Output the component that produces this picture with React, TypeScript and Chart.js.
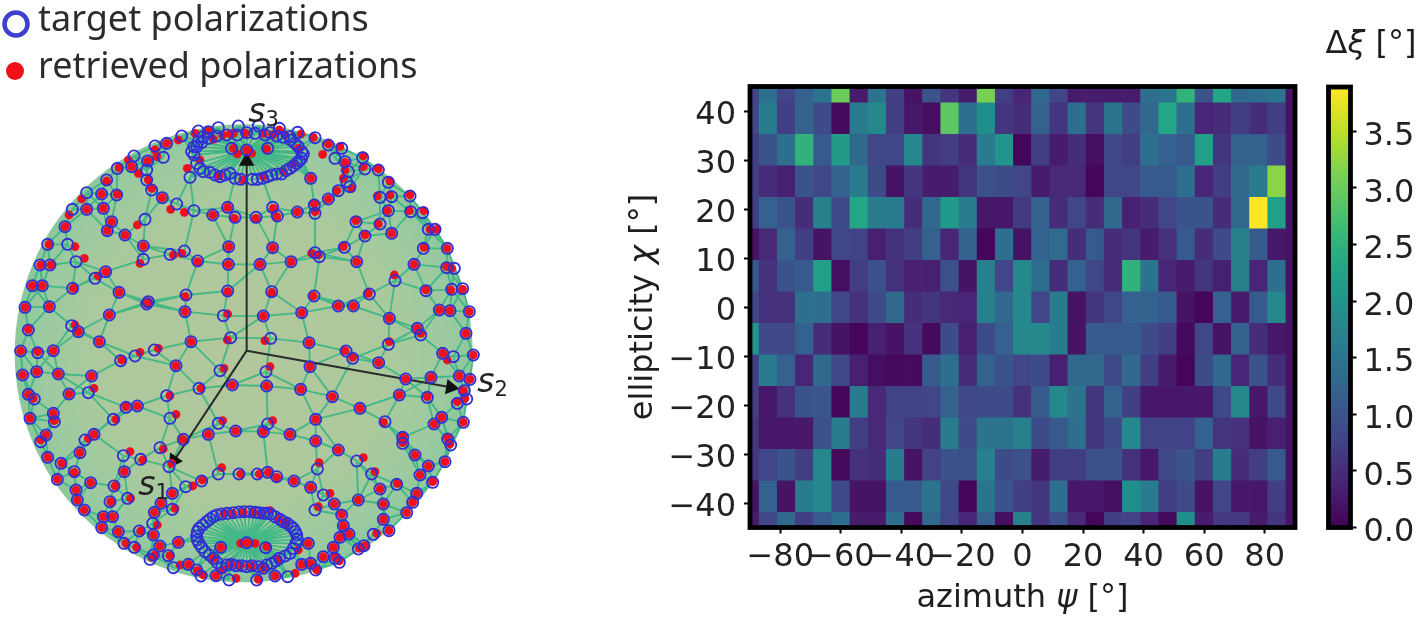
import React, { useEffect, useRef } from "react";
import { Chart, registerables } from "chart.js";

Chart.register(...registerables);

// ---------- heat map ----------
const psiCenters = [-90,-84,-78,-72,-66,-60,-54,-48,-42,-36,-30,-24,-18,-12,-6,0,6,12,18,24,30,36,42,48,54,60,66,72,78,84,90];
const chiCenters = [45,38.57,32.14,25.71,19.29,12.86,6.43,0,-6.43,-12.86,-19.29,-25.71,-32.14,-38.57,-45];
const chiHalfStep = 3.214;
const xTicks = [-80,-60,-40,-20,0,20,40,60,80];
const yTicks = [-40,-30,-20,-10,0,10,20,30,40];
const barTicks = [0,0.5,1,1.5,2,2.5,3,3.5];
const deltaMax = 3.89;

const row45 = [0.8,1.4,0.8,1.2,1.5,3.0,0.3,1.5,0.7,0.2,1.0,0.6,0.3,3.1,0.7,0.4,1.3,0.8,0.3,0.3,0.3,0.3,1.4,1.5,2.5,1.0,2.3,1.3,1.4,1.5,0.2];
const row39 = [0.8,1.6,0.7,1.2,0.9,0.1,1.6,1.8,0.7,0.25,0.15,2.9,1.4,1.9,0.6,0.5,1.2,0.6,1.4,0.6,1.5,0.9,1.3,2.3,1.4,0.4,0.5,0.7,0.5,0.7,0.2];
const row32 = [0.7,1.0,1.4,2.5,1.1,2.1,1.3,0.8,0.8,1.8,0.6,0.7,0.5,1.6,2.0,0.05,0.7,0.3,0.5,0.15,0.8,0.7,1.4,1.2,1.1,2.2,0.6,1.2,1.2,0.9,0.2];
const row26 = [0.7,0.5,0.35,1.0,0.8,1.2,1.6,0.9,0.2,0.6,0.3,0.3,0.6,0.95,0.9,0.8,0.3,0.45,0.45,0.05,0.8,0.8,1.1,1.1,1.4,0.4,0.7,1.3,1.6,3.2,0.2];
const row19 = [0.7,1.2,1.0,0.5,1.7,0.9,2.3,1.6,1.6,0.5,1.3,2.1,1.6,0.25,0.25,0.65,1.2,0.5,0.8,0.5,1.3,0.35,0.5,0.8,1.0,1.0,0.5,1.3,3.9,2.2,0.2];
const row13 = [0.2,0.45,1.2,0.7,0.2,0.8,0.75,0.35,0.55,0.7,1.2,0.4,1.2,0.05,1.4,0.2,1.2,1.35,0.5,1.1,0.5,0.6,0.3,0.55,1.1,0.5,0.9,1.7,1.1,0.25,0.2];
const row6 = [1.1,0.55,1.0,1.1,2.2,0.15,0.7,0.95,0.55,0.35,0.35,0.95,0.2,1.7,0.8,1.8,1.4,0.5,1.2,0.8,0.5,2.5,1.5,0.4,0.3,0.6,0.35,1.7,0.4,1.4,0.2];
const row0 = [0.8,0.55,0.55,1.4,1.4,0.8,0.55,0.9,1.3,0.5,0.6,0.45,0.4,1.7,1.3,1.8,0.8,1.6,0.2,0.6,0.8,1.2,1.2,1.1,0.2,0.05,1.2,0.3,1.1,1.8,0.2];
const rowM6 = [2.0,0.85,0.85,1.2,0.5,0.2,0.05,0.35,0.2,0.55,0.1,0.9,0.35,0.9,1.2,1.8,1.8,1.6,0.2,1.1,1.1,1.1,0.9,0.7,0.1,0.8,0.2,1.2,0.5,0.25,0.2];
const rowM13 = [0.7,1.6,1.2,0.4,1.3,0.85,0.35,0.15,0.1,0.1,1.1,1.4,0.5,1.2,1.0,0.8,0.9,0.35,1.3,1.3,0.9,1.3,0.7,0.3,0.05,0.9,1.3,0.4,1.0,0.5,0.2];
const rowM19 = [0.7,0.25,0.55,1.0,1.05,0.05,1.6,0.45,0.75,0.75,0.8,1.2,0.85,0.9,0.9,0.55,1.1,1.8,1.5,0.6,1.2,0.7,0.25,0.25,0.25,0.25,0.85,1.8,0.25,0.85,0.2];
const rowM26 = [0.6,0.25,0.25,0.25,0.95,1.6,0.7,0.45,0.8,0.6,0.5,1.6,0.9,1.5,1.5,1.7,0.9,1.1,1.4,0.6,0.9,1.8,0.75,0.75,0.75,1.2,0.6,0.55,0.2,0.35,0.2];
const rowM32 = [0.6,0.8,1.0,0.7,1.8,0.1,0.55,0.5,1.6,0.2,0.75,1.0,0.95,1.7,0.9,0.95,0.3,0.7,0.7,0.95,0.95,0.55,0.25,0.85,1.0,0.7,1.6,0.5,0.7,1.1,0.2];
const rowM39 = [0.2,1.2,0.2,1.6,1.8,0.9,0.2,0.2,1.1,1.1,1.5,0.85,0.05,1.5,1.0,0.7,0.6,1.4,0.25,0.25,0.15,1.9,1.6,0.7,0.9,0.2,0.8,0.25,0.25,0.7,0.2];
const rowM45 = [0.3,0.8,1.3,0.7,1.1,1.4,0.3,0.3,1.4,0.1,1.3,0.8,0.4,1.2,0.15,1.7,0.6,0.95,0.45,0.05,0.7,0.75,0.4,0.1,1.9,0.3,0.65,0.65,0.3,0.6,0.2];
const heatRows = [row45,row39,row32,row26,row19,row13,row6,row0,rowM6,rowM13,rowM19,rowM26,rowM32,rowM39,rowM45];

const viridisStops = ["#440154","#482475","#414487","#355f8d","#2a788e","#21918c","#22a884","#44bf70","#7ad151","#bddf26","#fde725"];

// ---------- sphere: points in the picture plane of the projection ----------
const sphereTargets: number[][] = [
[545,408],[595,393],[625,395],[655,383],[715,378],[740,398],[775,378],[810,398],[838,385],[893,397],[870,410],[945,413],[985,435],[1025,445],[1088,473],[1095,507],[1135,510],[1165,547],[1230,588],[1175,590],[1140,592],[1165,632],[1232,635],[1268,638],[1285,688],[1305,688],[1270,745],[1342,745],[1242,793],[1340,803],[1363,805],[1355,868],[1388,866],[1278,872],[1185,842],[1108,882],[942,888],[1070,785],[1175,700],[1140,672],[1095,708],[1068,665],[1033,742],[958,770],[945,758],[873,785],[780,793],[818,743],[686,740],[685,793],[593,783],[553,753],[510,763],[430,738],[430,778],[375,705],[322,692],[335,665],[435,658],[350,585],[310,625],[260,628],[217,628],[195,680],[260,578],[305,582],[320,540],[352,505],[402,468],[395,500],[440,510],[440,540],[455,570],[487,593],[530,612],[582,632],[638,645],[683,622],[705,652],[768,652],[818,622],[832,648],[892,636],[945,640],[943,615],[985,597],[1015,572],[1050,560],[1040,545],[1045,515],[1035,485],[1005,475],[932,535],[570,532],[490,472],[443,483],[465,438],[500,430],
[143,733],[203,733],[228,785],[120,795],[150,795],[97,857],[127,857],[218,865],[285,835],[317,815],[357,877],[445,905],[558,885],[683,873],[815,875],
[695,445],[740,450],[803,445],
[582,440],[582,465],[590,490],[610,515],[630,517],[660,530],[690,520],[722,538],[757,538],[788,535],[815,525],[845,522],[870,505],[890,490],[905,475],[905,455],[885,430],[610,410],[595,425],
[75,922],[148,920],[440,912],[555,935],[328,945],[670,947],[790,948],[905,938],[1015,918],[1060,918],[1168,955],[1318,930],[1350,932],[1408,935],[85,990],[215,977],[235,995],[298,1025],[573,1025],[692,1013],[812,1015],[927,1028],[1252,985],[1262,1005],[1398,1000],[62,1053],[113,1058],[160,1052],[362,1082],[405,1068],[463,1050],[1038,1053],[1058,1075],[1165,1033],[1136,1088],[1328,1060],[1360,1070],[1420,1065],[528,1097],[660,1112],[798,1115],[930,1100],[68,1125],[110,1115],[175,1122],[275,1128],[1217,1137],[1293,1132],[1378,1128],[1410,1138],[597,1165],[697,1155],[800,1158],[902,1168],[997,1190],[265,1178],[207,1182],[85,1183],[103,1197],[500,1187],[1198,1185],[1282,1192],[1393,1172],[1400,1197],[1372,1210],[378,1222],[412,1218],[1080,1225],[160,1240],[163,1265],[90,1255],[340,1258],[510,1255],[1155,1265],[947,1258],[1325,1252],[1302,1272],[1390,1267],[655,1270],[803,1272],[707,1293],[625,1303],[790,1295],[870,1303],[947,1323],[1208,1312],[1208,1330],[1343,1317],[1352,1335],[282,1303],[255,1320],[138,1305],[122,1325],[550,1318],[1015,1350],[480,1343],[240,1358],[370,1367],[422,1378],[143,1372],[183,1390],[1245,1365],[1070,1383],[1335,1385],[507,1400],[373,1415],[223,1415],[952,1407],[1285,1398],[655,1422],[717,1422],[772,1422],[803,1417],[830,1430],[882,1443],[1115,1422],[1260,1425],[172,1438],[272,1448],[342,1458],[605,1443],[557,1460],[932,1462],[1190,1453],[1298,1447],[1140,1467],[228,1470],[1250,1480],[970,1485],[517,1480],[383,1495],[232,1500],[330,1505],[1075,1500],[1150,1512],[1238,1507],[1003,1512],[483,1510],[517,1528],[945,1530],[253,1530],[1220,1538],[463,1537],[1025,1545],[310,1550],[338,1550],[458,1570],[1150,1558],[1030,1577],[305,1583],[355,1595],[418,1593],[1167,1592],[460,1605],[1047,1602],[1120,1603],[1020,1612],[372,1630],[403,1642],[535,1627],[925,1630],[480,1638],[1000,1642],[1092,1637],[1075,1647],[505,1667],[970,1670],[460,1665],[450,1678],[1005,1675],[1018,1687],[520,1703],[565,1693],[590,1710],[603,1728],[648,1727],[687,1740],[770,1740],[825,1728],[863,1730],[905,1693],[932,1690],[947,1710],[790,1705],
[662,1642],[740,1628],[797,1643],
[665,1542],[700,1538],[733,1535],[765,1537],[790,1540],[812,1542],[840,1558],[862,1570],[880,1585],[890,1605],[888,1630],[870,1660],[838,1675],[815,1690],[755,1697],[725,1697],[693,1693],[665,1703],[640,1675],[615,1655],[597,1630],[590,1608],[597,1585],[620,1565],[640,1550],
];

const capRingTargets: number[][] = [
[575,455],[600,505],[645,525],[675,525],[705,535],[772,538],[802,530],[830,522],[858,512],[880,498],[898,482],[910,462],[895,440],[872,420],[850,412],[830,408],[795,405],[765,400],[712,405],[680,405],[650,408],[625,415],[605,428],[590,440],
[650,1545],[682,1540],[717,1536],[750,1535],[778,1538],[802,1540],[825,1550],[850,1565],[872,1578],[886,1595],[892,1618],[880,1645],[855,1668],[828,1683],[800,1695],[775,1700],[740,1700],[708,1697],[680,1695],[652,1688],[628,1665],[605,1642],[592,1620],[592,1595],[608,1575],[630,1557],
];

const sphereRetrieved: number[][] = [
[535,420],[585,400],[625,392],[668,405],[700,400],[735,400],[790,400],[818,405],[838,390],[903,402],[855,405],[940,412],[985,432],[1020,440],[1090,468],[1090,500],[1135,507],[1170,543],[1230,585],[1170,585],[1132,588],[1163,632],[1228,632],[1272,632],[1290,688],[1310,688],[1272,742],[1342,745],[1242,793],[1340,800],[1355,805],[1352,870],[1388,868],[1278,870],[1183,825],[1105,880],[940,888],[1070,785],[1175,700],[1135,672],[1095,705],[1068,662],[1030,740],[955,765],[935,760],[873,785],[780,793],[818,743],[686,740],[685,793],[593,785],[545,760],[520,765],[430,738],[420,790],[375,705],[322,692],[335,665],[412,675],[352,583],[310,625],[260,628],[207,645],[195,680],[245,597],[305,582],[320,543],[357,503],[385,480],[395,500],[415,520],[445,540],[455,565],[487,593],[512,628],[553,637],[638,645],[683,622],[703,655],[768,655],[820,625],[830,650],[892,636],[945,635],[943,612],[985,597],[1010,572],[1055,565],[1030,535],[1035,510],[1035,487],[968,463],[932,535],[562,505],[470,470],[443,483],[465,450],[500,430],
[147,733],[225,740],[253,775],[122,795],[152,795],[97,857],[127,857],[220,865],[295,828],[318,815],[357,877],[445,905],[555,890],[683,875],[815,877],
[700,445],[740,450],[800,447],[712,462],[755,460],
[640,418],[600,480],[658,528],[728,540],[790,530],[850,515],[880,490],[895,445],[690,402],[735,400],[818,405],
[75,922],[148,920],[440,912],[555,935],[328,945],[683,942],[790,948],[905,938],[1015,918],[1060,918],[1168,955],[1318,930],[1350,932],[1408,935],[85,988],[225,975],[235,995],[298,1025],[573,1025],[682,1020],[795,1022],[927,1028],[1252,985],[1262,1000],[1398,1000],[62,1053],[113,1055],[160,1052],[365,1080],[420,1057],[475,1045],[1035,1052],[1058,1072],[1168,1025],[1136,1088],[1328,1060],[1342,1080],[1420,1065],[528,1097],[672,1105],[810,1100],[930,1100],[68,1125],[110,1115],[175,1122],[275,1128],[1217,1137],[1293,1132],[1378,1128],[1410,1138],[603,1165],[697,1155],[800,1158],[902,1168],[997,1190],[282,1165],[207,1182],[85,1183],[100,1195],[510,1187],[1198,1185],[1282,1190],[1390,1172],[1395,1195],[1372,1205],[378,1220],[412,1218],[1080,1225],[160,1240],[163,1262],[90,1255],[348,1258],[528,1243],[1150,1267],[947,1258],[1325,1252],[1302,1272],[1390,1267],[668,1262],[818,1262],[707,1293],[625,1303],[790,1295],[870,1303],[947,1323],[1208,1310],[1208,1328],[1343,1315],[1350,1332],[282,1303],[265,1315],[138,1305],[122,1320],[548,1318],[1015,1350],[490,1347],[240,1358],[390,1355],[428,1380],[143,1372],[185,1390],[1245,1365],[1090,1373],[1335,1385],[515,1390],[373,1415],[223,1417],[957,1388],[1285,1398],[665,1403],[722,1422],[778,1422],[805,1417],[830,1432],[882,1443],[1125,1415],[1260,1425],[172,1438],[272,1448],[345,1458],[607,1440],[578,1458],[932,1462],[1192,1450],[1298,1445],[1140,1467],[228,1470],[1250,1480],[990,1480],[517,1480],[392,1495],[232,1500],[332,1505],[1075,1500],[1150,1512],[1238,1507],[1003,1512],[483,1510],[525,1525],[955,1520],[253,1530],[1220,1538],[463,1537],[1025,1543],[310,1550],[338,1550],[472,1575],[1150,1558],[1030,1577],[305,1583],[355,1595],[422,1593],[1167,1592],[460,1605],[1047,1602],[1130,1600],[1020,1612],[378,1630],[410,1642],[535,1627],[925,1630],[480,1638],[1000,1642],[1095,1637],[1078,1645],[510,1667],[970,1670],[465,1665],[455,1672],[1005,1672],[1018,1683],[540,1695],[565,1693],[592,1712],[610,1725],[648,1727],[708,1735],[775,1738],[825,1728],[885,1720],[905,1693],[932,1690],[950,1710],[790,1705],
[662,1642],[740,1628],[722,1630],[765,1630],[800,1640],
[672,1540],[698,1540],[730,1537],[760,1537],[785,1540],[810,1532],[838,1558],[860,1570],[895,1650],[835,1678],[755,1697],[722,1697],[693,1693],[668,1710],[640,1675],
];

const targetPoints = sphereTargets.concat(capRingTargets);
const retrievedPoints = sphereRetrieved;

const sphereCentre = [731, 1060];
const topPole = [740, 450];
const bottomPole = [740, 1628];
const axisStart = [740, 1052];
const s3Tip = [740, 484];
const s2Tip = [1352, 1162];
const s1Tip = [522, 1382];

const legendLabels = ["target polarizations", "retrieved polarizations"];

const FONT = "'DejaVu Sans'";

function viridis(v: number): string {
  const t = Math.max(0, Math.min(1, v / deltaMax)) * (viridisStops.length - 1);
  const i = Math.min(viridisStops.length - 2, Math.floor(t));
  const f = t - i;
  const a = viridisStops[i], b = viridisStops[i + 1];
  const ch = (s: string, k: number) => parseInt(s.substr(1 + 2 * k, 2), 16);
  const c = [0, 1, 2].map((k) => Math.round(ch(a, k) + (ch(b, k) - ch(a, k)) * f));
  return `rgb(${c[0]},${c[1]},${c[2]})`;
}

// mesh: each target joined to its nearest neighbours, plus fans at the poles
function buildMesh() {
  const out: { x: number; y: number }[] = [];
  const seen = new Set<string>();
  const add = (a: number[], b: number[]) => {
    out.push({ x: a[0], y: a[1] }, { x: b[0], y: b[1] }, { x: NaN, y: NaN });
  };
  targetPoints.forEach((p, i) => {
    const near = targetPoints
      .map((q, j) => ({ j, d: Math.hypot(q[0] - p[0], q[1] - p[1]) }))
      .filter((e) => e.j !== i && e.d > 22 && e.d < 170)
      .sort((m, n) => m.d - n.d)
      .slice(0, 4);
    near.forEach((e) => {
      const key = i < e.j ? `${i}-${e.j}` : `${e.j}-${i}`;
      if (!seen.has(key)) {
        seen.add(key);
        add(p, targetPoints[e.j]);
      }
    });
  });
  [topPole, bottomPole].forEach((pole) => {
    targetPoints.forEach((p) => {
      const dx = (p[0] - pole[0]) / 175;
      const dy = (p[1] - pole[1]) / (pole === topPole ? 100 : 110);
      if (Math.hypot(dx, dy) < 1.05) add(pole, p);
    });
  });
  return out;
}

function drawRuns(ctx: CanvasRenderingContext2D, runs: [string, string][], x: number, y: number, color = "#1e1e1e") {
  ctx.save();
  ctx.fillStyle = color;
  ctx.textBaseline = "alphabetic";
  ctx.textAlign = "left";
  let total = 0;
  runs.forEach(([t, f]) => { ctx.font = f; total += ctx.measureText(t).width; });
  let cx = x - total / 2;
  runs.forEach(([t, f]) => {
    ctx.font = f;
    ctx.fillText(t, cx, y);
    cx += ctx.measureText(t).width;
  });
  ctx.restore();
}

const framePlugin = {
  id: "frame",
  afterDraw(chart: any) {
    const { ctx, chartArea: a } = chart;
    ctx.save();
    ctx.strokeStyle = "#000";
    ctx.lineWidth = 4.8;
    ctx.strokeRect(a.left, a.top, a.right - a.left, a.bottom - a.top);
    ctx.restore();
  },
};

function useChart(build: (c: HTMLCanvasElement) => Chart) {
  const ref = useRef<HTMLCanvasElement>(null);
  useEffect(() => {
    const chart = build(ref.current!);
    return () => chart.destroy();
  }, []);
  return ref;
}

function buildSphere(canvas: HTMLCanvasElement) {
  const disc = (ctx: any) => {
    const chart = ctx.chart;
    const a = chart.chartArea;
    if (!a) return "#a9c99c";
    const cx = chart.scales.x.getPixelForValue(sphereCentre[0]);
    const cy = chart.scales.y.getPixelForValue(sphereCentre[1]);
    const g = chart.ctx.createRadialGradient(cx, cy, 20, cx, cy, 230);
    g.addColorStop(0, "#b2c79c");
    g.addColorStop(0.6, "#abc99c");
    g.addColorStop(0.88, "#9ccaa0");
    g.addColorStop(1, "#8bc79c");
    return g;
  };
  const arrow = (tip: number[], rot: number, order = 3) => ({
    type: "scatter" as const,
    data: [{ x: axisStart[0], y: axisStart[1] }, { x: tip[0], y: tip[1] }],
    showLine: true,
    borderColor: "#2b2b2b",
    borderWidth: 2,
    backgroundColor: "#111",
    pointRadius: [0, 9],
    pointStyle: "triangle",
    rotation: [0, rot],
    pointBorderWidth: 0,
    order,
  });
  const textPlugin = {
    id: "sphereText",
    afterDraw(chart: any) {
      const { ctx, scales } = chart;
      const sx = (v: number) => scales.x.getPixelForValue(v);
      const sy = (v: number) => scales.y.getPixelForValue(v);
      ctx.save();
      ctx.fillStyle = "#222";
      ctx.textBaseline = "alphabetic";
      const lab = (s: string, n: string, x: number, y: number) => {
        ctx.font = `italic 33px ${FONT}`;
        ctx.fillText(s, sx(x), sy(y));
        const w = ctx.measureText(s).width;
        ctx.font = `21px ${FONT}`;
        ctx.fillText(n, sx(x) + w, sy(y) + 4);
      };
      lab("s", "3", 745, 365);
      lab("s", "2", 1432, 1175);
      lab("s", "1", 415, 1485);
      // legend
      ctx.strokeStyle = "#3f3fcf";
      ctx.lineWidth = 4.5;
      ctx.beginPath();
      ctx.arc(16, 24, 11.5, 0, Math.PI * 2);
      ctx.stroke();
      ctx.fillStyle = "#f01018";
      ctx.beginPath();
      ctx.arc(15, 71, 9, 0, Math.PI * 2);
      ctx.fill();
      ctx.fillStyle = "#2c2c2c";
      ctx.font = "36px 'Noto Sans'";
      ctx.fillText(legendLabels[0], 38, 31);
      ctx.fillText(legendLabels[1], 38, 78);
      ctx.restore();
    },
  };
  return new Chart(canvas, {
    type: "scatter",
    data: {
      datasets: [
        {
          label: legendLabels[0],
          data: targetPoints.map(([x, y]) => ({ x, y })),
          pointRadius: 5.6,
          backgroundColor: "rgba(0,0,0,0)",
          borderColor: "#3030d4",
          pointBorderWidth: 1.8,
          order: 1,
        },
        {
          label: legendLabels[1],
          data: retrievedPoints.map(([x, y]) => ({ x, y })),
          pointRadius: 4.4,
          backgroundColor: "#ee1020",
          pointBorderWidth: 0,
          order: 2,
        },
        arrow(s3Tip, 0),
        arrow(s2Tip, 99.5),
        arrow(s1Tip, 214),
        {
          label: "mesh",
          data: buildMesh(),
          showLine: true,
          spanGaps: false,
          borderColor: "rgba(58,182,132,0.9)",
          borderWidth: 1.9,
          pointRadius: 0,
          order: 5,
        },
        {
          label: "sphere",
          data: [{ x: sphereCentre[0], y: sphereCentre[1] }],
          pointRadius: 229,
          backgroundColor: disc,
          pointBorderWidth: 0,
          clip: false,
          order: 6,
        },
      ] as any,
    },
    options: {
      animation: false,
      responsive: false,
      layout: { padding: 0, autoPadding: false },
      plugins: { legend: { display: false }, tooltip: { enabled: false } },
      scales: {
        x: { type: "linear", display: false, min: 0, max: 1800 },
        y: { type: "linear", display: false, min: 0, max: 1851, reverse: true },
      },
    },
    plugins: [textPlugin],
  } as any);
}

function buildHeat(canvas: HTMLCanvasElement) {
  const titles = {
    id: "heatTitles",
    afterDraw(chart: any) {
      const { ctx } = chart;
      const base = `32px ${FONT}`;
      const it = `italic 32px ${FONT}`;
      const a = chart.chartArea;
      drawRuns(ctx, [["azimuth ", base], ["ψ", it], [" [°]", base]], (a.left + a.right) / 2, 607);
      ctx.save();
      ctx.translate(42, 307);
      ctx.rotate(-Math.PI / 2);
      drawRuns(ctx, [["ellipticity ", base], ["χ", it], [" [°]", base]], 0, 0);
      ctx.restore();
    },
  };
  return new Chart(canvas, {
    type: "bar",
    data: {
      datasets: heatRows.map((row, r) => ({
        label: `chi ${chiCenters[r]}`,
        data: row.map((_, c) => ({ x: psiCenters[c], y: [chiCenters[r] - chiHalfStep, chiCenters[r] + chiHalfStep] })),
        backgroundColor: row.map(viridis),
        borderWidth: 0,
      })),
    },
    options: {
      animation: false,
      responsive: false,
      layout: { padding: { left: 750 - 610 - 110, right: 1300 - 1295, top: 86.5, bottom: 617 - 527.5 - 60 }, autoPadding: false },
      grouped: false,
      barPercentage: 1,
      categoryPercentage: 1,
      plugins: { legend: { display: false }, tooltip: { enabled: false } },
      scales: {
        x: {
          type: "linear",
          min: -90,
          max: 90,
          offset: false,
          afterFit: (s: any) => { s.height = 60; },
          afterBuildTicks: (s: any) => { s.ticks = xTicks.map((value) => ({ value })); },
          grid: { offset: false, drawOnChartArea: false, tickLength: 6, tickColor: "#000", tickWidth: 2 },
          border: { display: false },
          ticks: {
            autoSkip: false, maxRotation: 0, minRotation: 0, padding: 5, color: "#222", font: { family: FONT, size: 32 },
            callback: (v: any) => String(v).replace("-", "\u2212"),
          },
        },
        y: {
          type: "linear",
          min: -45,
          max: 45,
          afterFit: (s: any) => { s.width = 110; },
          afterBuildTicks: (s: any) => { s.ticks = yTicks.map((value) => ({ value })); },
          grid: { drawOnChartArea: false, tickLength: 6, tickColor: "#000", tickWidth: 2 },
          border: { display: false },
          ticks: {
            autoSkip: false, padding: 8, color: "#222", font: { family: FONT, size: 32, lineHeight: "10px" },
            callback: (v: any) => ["", String(v).replace("-", "\u2212")],
          },
        },
      },
    },
    plugins: [framePlugin, titles],
  } as any);
}

function buildBar(canvas: HTMLCanvasElement) {
  const gradient = (ctx: any) => {
    const a = ctx.chart.chartArea;
    if (!a) return viridisStops[0];
    const g = ctx.chart.ctx.createLinearGradient(0, a.bottom, 0, a.top);
    viridisStops.forEach((c, i) => g.addColorStop(i / (viridisStops.length - 1), c));
    return g;
  };
  const title = {
    id: "barTitle",
    afterDraw(chart: any) {
      drawRuns(chart.ctx, [["Δ", `32px ${FONT}`], ["ξ", `italic 32px ${FONT}`], [" [°]", `32px ${FONT}`]], 1371 - 1300, 53);
    },
  };
  return new Chart(canvas, {
    type: "bar",
    data: { labels: [""], datasets: [{ label: "Δξ", data: [[0, deltaMax]], backgroundColor: gradient, borderWidth: 0 }] },
    options: {
      animation: false,
      responsive: false,
      layout: { padding: { left: 28.5, top: 87, bottom: 89.5, right: 0 }, autoPadding: false },
      barPercentage: 1,
      categoryPercentage: 1,
      plugins: { legend: { display: false }, tooltip: { enabled: false } },
      scales: {
        x: { display: false },
        y: {
          type: "linear",
          position: "right",
          min: 0,
          max: deltaMax,
          afterFit: (s: any) => { s.width = 67.5; },
          afterBuildTicks: (s: any) => { s.ticks = barTicks.map((value) => ({ value })); },
          grid: { drawOnChartArea: false, tickLength: 6, tickColor: "#000", tickWidth: 2 },
          border: { display: false },
          ticks: {
            autoSkip: false, padding: 7, color: "#222", font: { family: FONT, size: 32, lineHeight: "11px" },
            callback: (v: any) => ["", Number(v).toFixed(1)],
          },
        },
      },
    },
    plugins: [framePlugin, title],
  } as any);
}

export default function App() {
  const sphere = useChart(buildSphere);
  const heat = useChart(buildHeat);
  const bar = useChart(buildBar);
  const abs = (left: number, width: number): React.CSSProperties => ({ position: "absolute", left, top: 0, width, height: 617 });
  return (
    <div style={{ position: "absolute", left: 0, top: 0, width: 1418, height: 617, background: "#fff", overflow: "hidden", filter: "blur(0.7px)" }}>
      <canvas ref={sphere} width={600} height={617} style={abs(0, 600)} />
      <canvas ref={heat} width={690} height={617} style={abs(610, 690)} />
      <canvas ref={bar} width={118} height={617} style={abs(1300, 118)} />
    </div>
  );
}
